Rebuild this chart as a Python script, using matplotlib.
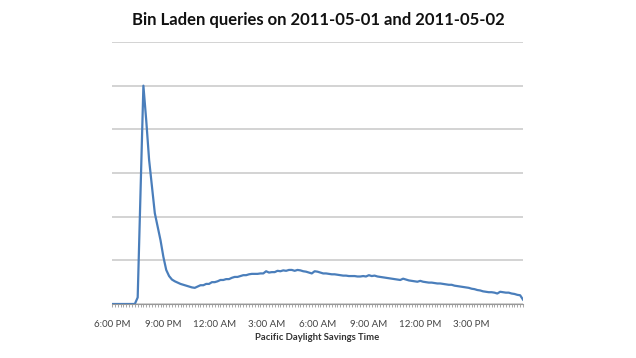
import matplotlib
matplotlib.use("Agg")
import matplotlib.pyplot as plt
from matplotlib.ticker import FixedLocator, MultipleLocator

# 10-minute intervals starting 6:00 PM PDT, 2011-05-01 (relative query volume)
values = [
    0, 0, 0, 0, 0, 0, 0, 0, 0, 0.15,
    2.6, 5.0, 4.2, 3.3, 2.68, 2.08, 1.77, 1.46, 1.08, 0.78,
    0.64, 0.56, 0.52, 0.49, 0.46, 0.44, 0.42, 0.40, 0.38, 0.37,
    0.40, 0.43, 0.43, 0.46, 0.46, 0.50, 0.50, 0.52, 0.55, 0.55,
    0.57, 0.57, 0.60, 0.62, 0.62, 0.64, 0.66, 0.66, 0.68, 0.69,
    0.69, 0.69, 0.70, 0.70, 0.75, 0.72, 0.73, 0.73, 0.76, 0.75,
    0.77, 0.76, 0.78, 0.78, 0.76, 0.78, 0.77, 0.75, 0.74, 0.72,
    0.70, 0.75, 0.74, 0.72, 0.70, 0.70, 0.69, 0.68, 0.68, 0.67,
    0.66, 0.65, 0.65, 0.64, 0.64, 0.64, 0.63, 0.63, 0.64, 0.63,
    0.66, 0.64, 0.65, 0.63, 0.62, 0.61, 0.60, 0.59, 0.58, 0.57,
    0.56, 0.55, 0.58, 0.56, 0.54, 0.53, 0.52, 0.51, 0.53, 0.51,
    0.50, 0.49, 0.49, 0.48, 0.47, 0.47, 0.46, 0.45, 0.44, 0.44,
    0.42, 0.41, 0.40, 0.39, 0.38, 0.37, 0.35, 0.34, 0.32, 0.31,
    0.29, 0.28, 0.27, 0.27, 0.26, 0.24, 0.28, 0.27, 0.26, 0.26,
    0.24, 0.23, 0.21, 0.20, 0.10,
]
tick_labels = ["6:00 PM", "9:00 PM", "12:00 AM", "3:00 AM",
               "6:00 AM", "9:00 AM", "12:00 PM", "3:00 PM"]
title = "Bin Laden queries on 2011-05-01 and 2011-05-02"
xlabel = "Pacific Daylight Savings Time"

plt.rcParams['font.family'] = ['Lato', 'DejaVu Sans']

fig = plt.figure(figsize=(6.36, 3.58), dpi=100)
ax = fig.add_axes([112/636, 54/358, 411/636, 262/358])

x = list(range(len(values)))
ax.plot(x, values, color="#4a7ebb", lw=1.6, solid_joinstyle="round")

ax.set_xlim(0, 144)
ax.set_ylim(0, 6)
ax.set_yticks(range(0, 7))
ax.yaxis.grid(True, color="#c8c8c8", lw=1.1)
ax.set_axisbelow(True)
ax.tick_params(axis="y", left=False, labelleft=False)

ax.xaxis.set_major_locator(FixedLocator([i * 18 for i in range(len(tick_labels))]))
ax.set_xticklabels(tick_labels)
ax.xaxis.set_minor_locator(MultipleLocator(1))
ax.tick_params(axis="x", which="both", direction="out", length=2.5, width=0.6,
               color="#999999", labelsize=7.0, labelcolor="#444444", pad=9)

for s in ["left", "right", "top"]:
    ax.spines[s].set_visible(False)
ax.spines["bottom"].set_color("#999999")
ax.spines["bottom"].set_linewidth(0.8)

fig.text(0.5, 1 - 20/358, title, ha="center", va="center",
         fontsize=12, fontweight="bold", color="#111111")
fig.text(317/636, 1 - 337/358, xlabel, ha="center", va="center",
         fontsize=6.8, fontweight="bold", color="#333333")

fig.savefig("out.png", dpi=100, facecolor="white")
